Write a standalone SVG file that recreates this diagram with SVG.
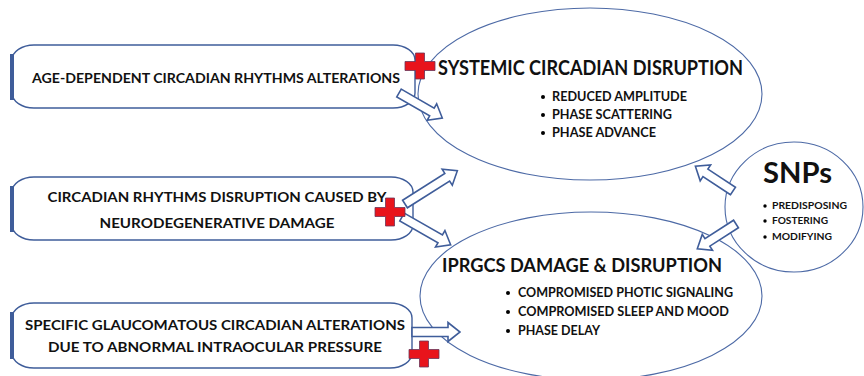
<svg xmlns="http://www.w3.org/2000/svg" width="864" height="376" viewBox="0 0 864 376">
<style>
.box{fill:#fff;stroke:#3f5d9a;stroke-width:1.4}
.bar{stroke:#3f5d9a;stroke-width:4;fill:none}
.ell{fill:none;stroke:#4d6aa6;stroke-width:1.1}
.t{font-family:Lato,"Liberation Sans",Arial,sans-serif;font-weight:bold;fill:#111}
.arr{fill:#fff;stroke:#3f5d9a;stroke-width:1.6;stroke-linejoin:miter}
.cross{fill:#e8141c;stroke:#6b3558;stroke-width:0.8}
</style>
<rect width="864" height="376" fill="#fff"/>

<g id="box1">
<rect class="box" x="12" y="45" width="403" height="63" rx="22" ry="15"/>
<line class="bar" x1="12" y1="54" x2="12" y2="100"/>
<text class="t" x="216" y="83" font-size="13.5" text-anchor="middle" textLength="368" lengthAdjust="spacingAndGlyphs">AGE-DEPENDENT CIRCADIAN RHYTHMS ALTERATIONS</text>
</g>

<g id="box2">
<rect class="box" x="12" y="177" width="401" height="63" rx="22" ry="15"/>
<line class="bar" x1="12" y1="186" x2="12" y2="232"/>
<text class="t" x="217" y="202" font-size="13.5" text-anchor="middle" textLength="339" lengthAdjust="spacingAndGlyphs">CIRCADIAN RHYTHMS DISRUPTION CAUSED BY</text>
<text class="t" x="217" y="228" font-size="13.5" text-anchor="middle" textLength="235" lengthAdjust="spacingAndGlyphs">NEURODEGENERATIVE DAMAGE</text>
</g>

<g id="box3">
<rect class="box" x="12" y="303" width="400" height="65" rx="22" ry="15"/>
<line class="bar" x1="12" y1="312" x2="12" y2="359"/>
<text class="t" x="215" y="330" font-size="13.5" text-anchor="middle" textLength="380" lengthAdjust="spacingAndGlyphs">SPECIFIC GLAUCOMATOUS CIRCADIAN ALTERATIONS</text>
<text class="t" x="215" y="352" font-size="13.5" text-anchor="middle" textLength="334" lengthAdjust="spacingAndGlyphs">DUE TO ABNORMAL INTRAOCULAR PRESSURE</text>
</g>

<g id="systemic">
<ellipse class="ell" cx="590" cy="94" rx="172" ry="86"/>
<text class="t" x="438" y="75" font-size="20" textLength="305" lengthAdjust="spacingAndGlyphs">SYSTEMIC CIRCADIAN DISRUPTION</text>
<circle cx="543" cy="97" r="2"/><circle cx="543" cy="115" r="2"/><circle cx="543" cy="133" r="2"/>
<text class="t" x="552" y="101" font-size="12.5" textLength="135" lengthAdjust="spacingAndGlyphs">REDUCED AMPLITUDE</text>
<text class="t" x="552" y="119" font-size="12.5" textLength="120" lengthAdjust="spacingAndGlyphs">PHASE SCATTERING</text>
<text class="t" x="552" y="137" font-size="12.5" textLength="104" lengthAdjust="spacingAndGlyphs">PHASE ADVANCE</text>
</g>

<g id="iprgcs">
<ellipse class="ell" cx="591" cy="296" rx="171" ry="84"/>
<text class="t" x="442" y="272" font-size="19.5" textLength="280" lengthAdjust="spacingAndGlyphs">IPRGCS DAMAGE &amp; DISRUPTION</text>
<circle cx="508" cy="293" r="2"/><circle cx="508" cy="312" r="2"/><circle cx="508" cy="331" r="2"/>
<text class="t" x="518" y="297" font-size="12.5" textLength="215" lengthAdjust="spacingAndGlyphs">COMPROMISED PHOTIC SIGNALING</text>
<text class="t" x="518" y="316" font-size="12.5" textLength="211" lengthAdjust="spacingAndGlyphs">COMPROMISED SLEEP AND MOOD</text>
<text class="t" x="518" y="335" font-size="12.5" textLength="82" lengthAdjust="spacingAndGlyphs">PHASE DELAY</text>
</g>

<g id="snps">
<ellipse class="ell" cx="794" cy="207" rx="69" ry="65"/>
<text class="t" x="763" y="183" font-size="28" textLength="69" lengthAdjust="spacingAndGlyphs">SNPs</text>
<circle cx="765" cy="206" r="1.7"/><circle cx="765" cy="221" r="1.7"/><circle cx="765" cy="237" r="1.7"/>
<text class="t" x="772" y="209" font-size="9.5" textLength="75" lengthAdjust="spacingAndGlyphs">PREDISPOSING</text>
<text class="t" x="772" y="224" font-size="9.5" textLength="56" lengthAdjust="spacingAndGlyphs">FOSTERING</text>
<text class="t" x="772" y="240" font-size="9.5" textLength="60" lengthAdjust="spacingAndGlyphs">MODIFYING</text>
</g>

<g id="connectors">
<path class="arr" transform="translate(399,93) rotate(30)" d="M0,-4.5 H38 V-9.5 L50,0 L38,9.5 V4.5 H0 Z"/>
<path class="arr" transform="translate(405,204) rotate(-32.4)" d="M0,-4.5 H50 V-9.5 L62,0 L50,9.5 V4.5 H0 Z"/>
<path class="arr" transform="translate(402,217) rotate(29.7)" d="M0,-4.5 H44 V-9.5 L56,0 L44,9.5 V4.5 H0 Z"/>
<path class="arr" transform="translate(412,332)" d="M0,-4.5 H36 V-9.5 L48,0 L36,9.5 V4.5 H0 Z"/>
<path class="arr" transform="translate(733,191) rotate(-146.7)" d="M0,-4.5 H33 V-9.5 L45,0 L33,9.5 V4.5 H0 Z"/>
<path class="arr" transform="translate(736,224) rotate(147.3)" d="M0,-4.5 H34 V-9.5 L46,0 L34,9.5 V4.5 H0 Z"/>
</g>

<g id="crosses">
<path class="cross" transform="translate(420,66)" d="M-4.5,-13 H4.5 V-4.5 H15 V4.5 H4.5 V13 H-4.5 V4.5 H-15 V-4.5 H-4.5 Z"/>
<path class="cross" transform="translate(390,212)" d="M-4.5,-14 H4.5 V-4.5 H15 V4.5 H4.5 V14 H-4.5 V4.5 H-15 V-4.5 H-4.5 Z"/>
<path class="cross" transform="translate(424,354)" d="M-4.5,-13 H4.5 V-4.5 H15 V4.5 H4.5 V13 H-4.5 V4.5 H-15 V-4.5 H-4.5 Z"/>
</g>
</svg>
